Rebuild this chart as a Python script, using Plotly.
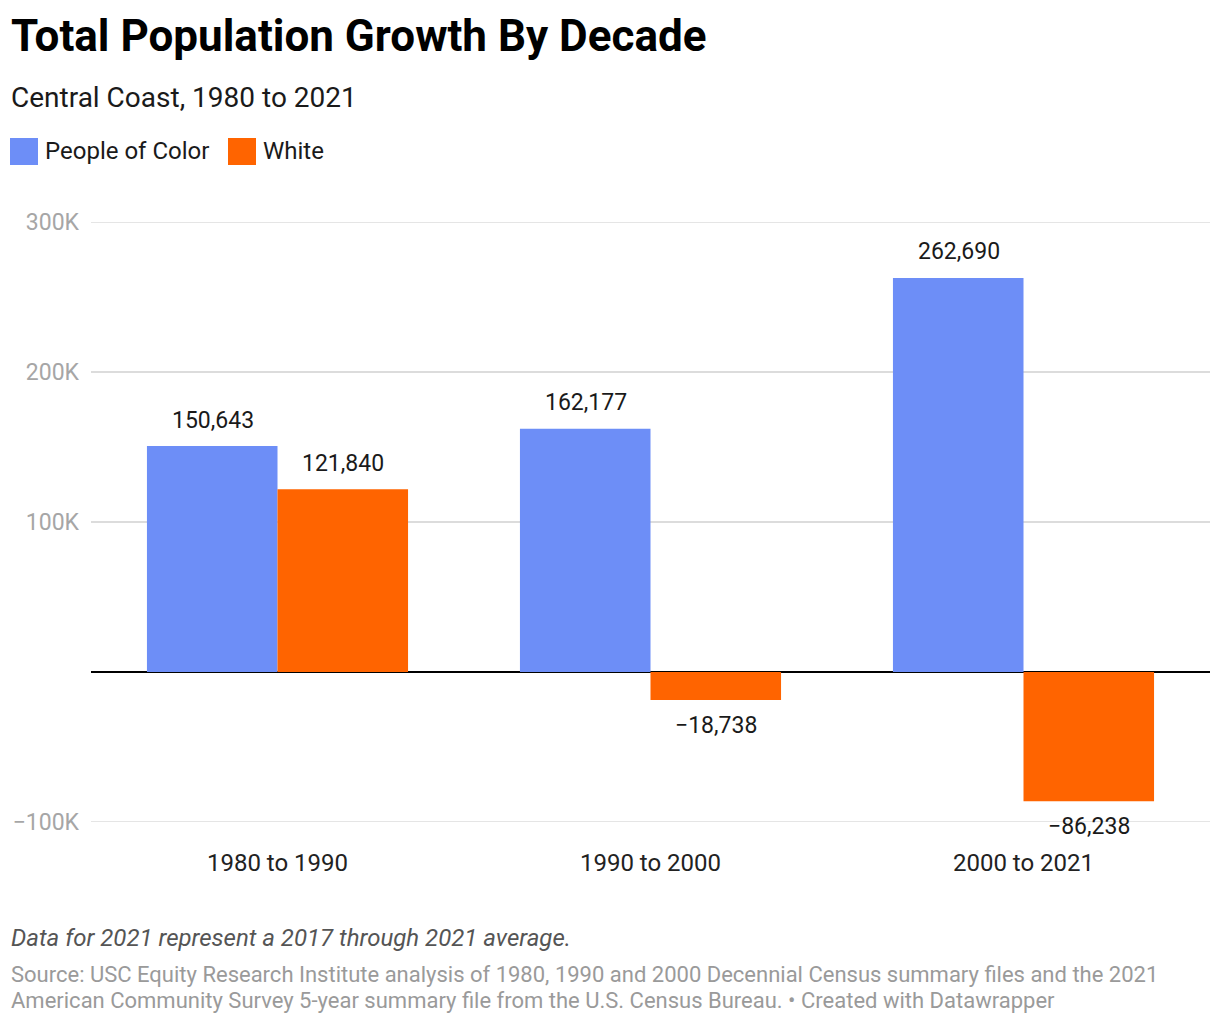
import plotly.graph_objects as go

categories = ["1980 to 1990", "1990 to 2000", "2000 to 2021"]
series_names = ["People of Color", "White"]
people_of_color = [150643, 162177, 262690]
white = [121840, -18738, -86238]
series_colors = ["#6d8ef7", "#ff6400"]
tick_values = [-100000, 100000, 200000, 300000]
tick_labels = ["−100K", "100K", "200K", "300K"]

# page offset of the plot div inside the browser page
OFF = 8
W, H = 1220, 1024
PW, PH = 1119, 600
L, T = 91 - OFF, 222 - OFF
R, B = W - L - PW, H - T - PH


def px(x):  # page pixel -> paper x
    return (x - OFF - L) / PW


def py(y):  # page pixel -> paper y
    return (T + PH - (y - OFF)) / PH


def fmt(v):
    return f"{v:,}".replace("-", "−")


fig = go.Figure()
for name, vals, col in zip(series_names, [people_of_color, white], series_colors):
    fig.add_trace(go.Bar(
        x=categories, y=vals, name=name, marker=dict(color=col, line=dict(width=0)),
        showlegend=False, hoverinfo="x+y",
    ))

ann = [
    dict(text="<b>Total Population Growth By Decade</b>", x=px(9), y=py(36), xanchor="left", yanchor="middle",
         font=dict(family="Roboto", size=44, color="#000")),
    dict(text="Central Coast, 1980 to 2021", x=px(9), y=py(97), xanchor="left", yanchor="middle",
         font=dict(family="Roboto", size=28, color="#1a1a1a")),
    dict(text="<i>Data for 2021 represent a 2017 through 2021 average.</i>", x=px(9), y=py(938), xanchor="left",
         yanchor="middle", font=dict(family="Roboto", size=24, color="#555")),
    dict(text="Source: USC Equity Research Institute analysis of 1980, 1990 and 2000 Decennial Census summary files and the 2021",
         x=px(9), y=py(974), xanchor="left", yanchor="middle", font=dict(family="Roboto", size=22, color="#9a9a9a")),
    dict(text="American Community Survey 5-year summary file from the U.S. Census Bureau. • Created with Datawrapper",
         x=px(9), y=py(1000), xanchor="left", yanchor="middle", font=dict(family="Roboto", size=22, color="#9a9a9a")),
]
for a in ann:
    a.update(xref="paper", yref="paper", showarrow=False)

# value labels drawn from the data
for si, vals in enumerate([people_of_color, white]):
    shift = -65 if si == 0 else 65
    for cat, v in zip(categories, vals):
        ann.append(dict(x=cat, y=v, xref="x", yref="y", text=fmt(v), showarrow=False,
                        xshift=shift, yshift=26 if v >= 0 else -25, yanchor="middle",
                        font=dict(family="Roboto", size=23, color="#1a1a1a")))

shapes = []
legend_x = [10, 228]
for name, col, lx in zip(series_names, series_colors, legend_x):
    shapes.append(dict(type="rect", xref="paper", yref="paper", x0=px(lx), x1=px(lx + 28),
                       y0=py(165), y1=py(138), fillcolor=col, line=dict(width=0)))
    ann.append(dict(text=name, x=px(lx + 33), y=py(151), xref="paper", yref="paper", showarrow=False,
                    xanchor="left", yanchor="middle",
                    font=dict(family="Roboto", size=24, color="#1a1a1a")))

fig.update_layout(
    width=W, height=H, margin=dict(l=L, r=R, t=T, b=B, autoexpand=False),
    paper_bgcolor="white", plot_bgcolor="white",
    barmode="group", bargap=0.3, bargroupgap=0,
    font=dict(family="Roboto"),
    annotations=ann, shapes=shapes, showlegend=False,
    xaxis=dict(showgrid=False, showline=False, ticks="", ticklabelstandoff=24,
               tickfont=dict(family="Roboto", size=24, color="#222"), range=[-0.5, 2.5]),
    yaxis=dict(range=[-100000, 300000], tickvals=tick_values, ticktext=tick_labels,
               showgrid=True, gridcolor="#dcdcdc", gridwidth=1.5,
               zeroline=True, zerolinecolor="#000", zerolinewidth=2,
               showline=False, ticks="", ticklabelstandoff=11,
               tickfont=dict(family="Roboto", size=23, color="#a6a6a6")),
)
# make sure edge gridlines at 300K and -100K are drawn
for tv in [tick_values[0], tick_values[-1]]:
    fig.add_shape(type="line", xref="paper", yref="y", x0=0, x1=1, y0=tv, y1=tv,
                  line=dict(color="#dcdcdc", width=1.5), layer="below")

fig.write_html("out.html")
